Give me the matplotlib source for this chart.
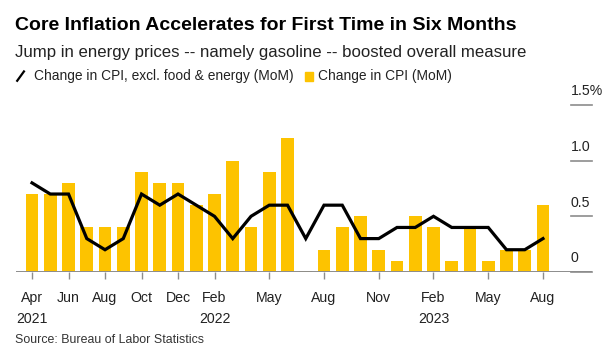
import numpy as np
import matplotlib.pyplot as plt
from matplotlib.lines import Line2D
from matplotlib.patches import Rectangle
from matplotlib.transforms import blended_transform_factory

plt.rcParams['font.family'] = ['Liberation Sans', 'DejaVu Sans']

# ==============================
# Data (Apr 2021 - Aug 2023, monthly % change)
# ==============================
months = [
    "2021-04", "2021-05", "2021-06", "2021-07", "2021-08", "2021-09", "2021-10",
    "2021-11", "2021-12", "2022-01", "2022-02", "2022-03", "2022-04", "2022-05",
    "2022-06", "2022-07", "2022-08", "2022-09", "2022-10", "2022-11", "2022-12",
    "2023-01", "2023-02", "2023-03", "2023-04", "2023-05", "2023-06", "2023-07",
    "2023-08",
]
cpi = [0.7, 0.7, 0.8, 0.4, 0.4, 0.4, 0.9, 0.8, 0.8, 0.6, 0.7, 1.0, 0.4, 0.9,
       1.2, 0.01, 0.2, 0.4, 0.5, 0.2, 0.1, 0.5, 0.4, 0.1, 0.4, 0.1, 0.2, 0.2, 0.6]
core = [0.8, 0.7, 0.7, 0.3, 0.2, 0.3, 0.7, 0.6, 0.7, 0.6, 0.5, 0.3, 0.5, 0.6,
        0.6, 0.3, 0.6, 0.6, 0.3, 0.3, 0.4, 0.4, 0.5, 0.4, 0.4, 0.4, 0.2, 0.2, 0.3]

tick_idx = [0, 2, 4, 6, 8, 10, 13, 16, 19, 22, 25, 28]
tick_labels = ["Apr\n2021", "Jun", "Aug", "Oct", "Dec", "Feb\n2022", "May",
               "Aug", "Nov", "Feb\n2023", "May", "Aug"]
y_ticks = [0, 0.5, 1.0, 1.5]
y_labels = ["0", "0.5", "1.0", "1.5%"]

BAR = "#fdc300"
GRAY = "#8c8c8c"

fig = plt.figure(figsize=(6.14, 3.59), dpi=100)
ax = fig.add_axes([0.026, 0.2423, 0.938, 0.481])

x = np.arange(len(months))
ax.bar(x, cpi, width=0.69, color=BAR, zorder=2)
ax.plot(x, core, color="black", lw=2.3, zorder=3, solid_joinstyle="miter")

ax.set_xlim(-0.88, 30.68)
ax.set_ylim(0, 1.55)
for s in ax.spines.values():
    s.set_visible(False)
ax.axhline(0, color=GRAY, lw=1.4, zorder=4)

ax.set_xticks(tick_idx)
ax.set_xticklabels(tick_labels, fontsize=10.2, color="#222222", linespacing=1.55)
ax.tick_params(axis="x", length=5, width=1, color=GRAY, pad=9)
ax.set_yticks([])

# right-hand value labels with short rules beneath
trans = blended_transform_factory(ax.transAxes, ax.transData)
for v, lab in zip(y_ticks, y_labels):
    ax.plot([0.9635, 1.0], [v, v], transform=trans, color=GRAY, lw=1.2,
            clip_on=False, zorder=1)
    ax.text(0.9635, v + 0.06, lab, transform=trans, ha="left", va="bottom",
            fontsize=10.2, color="#222222")

# titles
fig.text(0.024, 0.930, "Core Inflation Accelerates for First Time in Six Months",
         fontsize=14.0, fontweight="bold", va="center", color="black")
fig.text(0.024, 0.854, "Jump in energy prices -- namely gasoline -- boosted overall measure",
         fontsize=12.1, va="center", color="#222222")

# legend
ly = 0.788
fig.add_artist(Line2D([0.028, 0.039], [ly - 0.013, ly + 0.013], color="black",
                      lw=1.6, transform=fig.transFigure))
fig.text(0.056, ly, "Change in CPI, excl. food & energy (MoM)", fontsize=9.9,
         va="center", color="#222222")
fig.add_artist(Rectangle((0.497, ly - 0.0125), 0.013, 0.025, color=BAR,
                         transform=fig.transFigure))
fig.text(0.518, ly, "Change in CPI (MoM)", fontsize=9.9, va="center",
         color="#222222")

fig.text(0.024, 0.053, "Source: Bureau of Labor Statistics", fontsize=8.9,
         va="center", color="#333333")

fig.savefig("out.png", dpi=100)
